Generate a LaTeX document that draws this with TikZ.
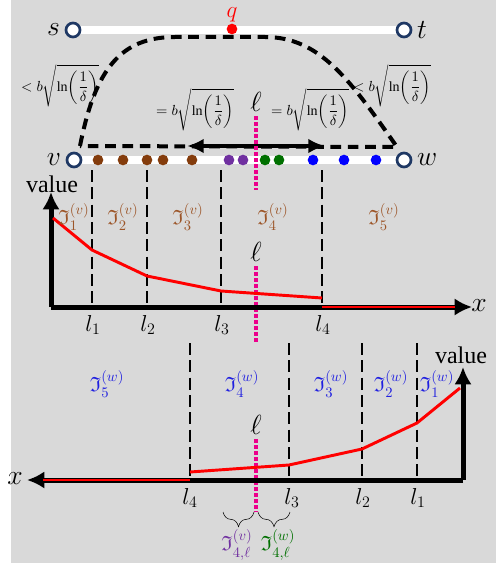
\documentclass[tikz,border=0pt]{standalone}
\usepackage{xcolor}
\usepackage{amsmath}
\usepackage{amssymb}
\usepackage{fontspec}
\setmainfont{Liberation Serif}
\usepackage{tikz}
\usetikzlibrary{arrows.meta,decorations.pathreplacing,backgrounds}

\definecolor{bggray}{HTML}{D9D9D9}
\definecolor{navy}{HTML}{1F3864}
\definecolor{brownV}{HTML}{843C0C}
\definecolor{brownL}{HTML}{9C5528}
\definecolor{purpleM}{HTML}{7030A0}
\definecolor{greenM}{HTML}{007000}
\definecolor{blueW}{HTML}{0000FF}
\definecolor{blueL}{HTML}{2020E0}

\newcommand{\bound}[1]{$\displaystyle #1 b\sqrt{\ln\biggl(\dfrac{1}{\delta}\biggr)}$}

\tikzset{
  endpt/.style={circle,draw=navy,fill=white,line width=2pt,minimum size=10.5pt,inner sep=0pt},
  road/.style={white,line width=6pt},
  bigdash/.style={line width=3pt,dash pattern=on 8pt off 5pt},
  vdash/.style={line width=2pt,dash pattern=on 9pt off 4pt},
  ellline/.style={magenta,line width=2.5pt,dash pattern=on 2.5pt off 2pt},
  axis/.style={line width=3.75pt,-{Latex[length=13pt,width=13pt]}},
  redline/.style={red,line width=2.2pt},
  bigm/.style={font=\fontsize{21}{22}\selectfont},
  lsub/.style={font=\fontsize{17}{18}\selectfont},
  frak/.style={font=\fontsize{15.5}{16}\selectfont},
  bnd/.style={font=\fontsize{10.5}{11}\selectfont,inner sep=0pt},
  valtxt/.style={font=\fontsize{18}{20}\selectfont}
}

\begin{document}
\begin{tikzpicture}[x=0.75pt,y=-0.75pt]
\useasboundingbox (0,0) rectangle (496,563);

% ===== 端点 =====
\node[endpt] (s) at (73,30) {};
\node[endpt] (t) at (404,30) {};
\node[endpt] (v) at (74,160) {};
\node[endpt] (w) at (404,160) {};
\node[bigm,left] (slab) at (s.west) {$s$};
\node[bigm,right] (tlab) at (t.east) {$t$};
\node[bigm,left] (vlab) at (v.west) {$v$};
\node[bigm,right] (wlab) at (w.east) {$w$};

% ===== 背景和两条路 =====
\begin{scope}[on background layer]
\fill[bggray] (11,0) rectangle (496,563);
\draw[road] (s.center) -- (t.center);
\draw[road] (v.center) -- (w.center);
\end{scope}

% ===== q 点 =====
\fill[red] (232,29) circle (4pt);
\node[red,inner sep=0pt,font=\fontsize{19}{20}\selectfont] (q) at (232,15) {$q$};

% ===== 虚线回路和双向箭头 =====
\coordinate (vc) at (80,146);
\coordinate (wc) at (397,147);
\draw[bigdash,line join=miter] (vc) .. controls (95,70) and (120,37) .. (175,37)
  -- (265,37) .. controls (320,37) and (350,80) .. (wc) -- cycle;
\coordinate (al) at (187,146);
\coordinate (ar) at (325,146);
\draw[line width=3pt,{Latex[length=12.5pt,width=11pt]}-{Latex[length=12.5pt,width=11pt]}] (al) -- (ar);

% ===== 距离标注 =====
\node[bnd] (bl) at (60,86) {\bound{<}};
\node[bnd] (br) at (392,86) {\bound{<}};
\node[bnd] (ml) at (195,110) {\bound{=}};
\node[bnd] (mr) at (310,110) {\bound{=}};

% ===== 点 =====
\fill[brownV] (98,160) circle (4pt) (123,160) circle (4pt) (147,160) circle (4pt)
  (163,160) circle (4pt) (192,160) circle (4pt);
\fill[purpleM] (229,160) circle (4pt) (243,160) circle (4pt);
\fill[greenM] (265,160) circle (4pt) (279,160) circle (4pt);
\fill[blueW] (313,160) circle (4pt) (344,160) circle (4pt) (376,160) circle (4pt);

% ===== ell 线 =====
\node[bigm] (ell1) at (256,102) {$\ell$};
\draw[ellline] (ell1.south) -- (256,190);
\node[bigm] (ell2) at (256,252) {$\ell$};
\draw[ellline] (ell2.south) -- (256,342);
\node[bigm] (ell3) at (256,425) {$\ell$};
\draw[ellline] (ell3.south) -- (256,512);

% ===== 上图 =====
\coordinate (O1) at (51,307);
\draw[vdash] (92,170) -- (92,307);
\draw[vdash] (147,170) -- (147,307);
\draw[vdash] (221,170) -- (221,307);
\draw[vdash] (322,170) -- (322,307);
\draw[axis] (O1) -- (472,307);
\draw[axis] (O1) -- (51,192);
\draw[redline] (53,218) -- (92,250) -- (147,276) -- (221,291) -- (322,298);
\draw[redline] (322,307) -- (455,307);
\node[valtxt] (val1) at (52,184) {value};
\node[bigm] (x1) at (479,306) {$x$};
\node[lsub] (l1a) at (93,325) {$l_1$};
\node[lsub] (l2a) at (148,325) {$l_2$};
\node[lsub] (l3a) at (222,325) {$l_3$};
\node[lsub] (l4a) at (323,325) {$l_4$};
\node[frak,brownL] (iv1) at (74,217) {$\mathfrak{I}^{(v)}_1$};
\node[frak,brownL] (iv2) at (123,217) {$\mathfrak{I}^{(v)}_2$};
\node[frak,brownL] (iv3) at (188,217) {$\mathfrak{I}^{(v)}_3$};
\node[frak,brownL] (iv4) at (273,217) {$\mathfrak{I}^{(v)}_4$};
\node[frak,brownL] (iv5) at (384,217) {$\mathfrak{I}^{(v)}_5$};

% ===== 下图 =====
\coordinate (O2) at (463,480);
\draw[vdash] (190,343) -- (190,480);
\draw[vdash] (289,343) -- (289,480);
\draw[vdash] (362,343) -- (362,480);
\draw[vdash] (417,343) -- (417,480);
\draw[axis] (O2) -- (27,480);
\draw[axis] (O2) -- (463,367);
\draw[redline] (43,480) -- (190,480);
\draw[redline] (190,472) -- (289,465) -- (362,449) -- (417,423) -- (460,388);
\node[valtxt] (val2) at (461,355) {value};
\node[bigm] (x2) at (15,479) {$x$};
\node[lsub] (l4b) at (190,498) {$l_4$};
\node[lsub] (l3b) at (292,498) {$l_3$};
\node[lsub] (l2b) at (363,498) {$l_2$};
\node[lsub] (l1b) at (418,498) {$l_1$};
\node[frak,blueL] (iw5) at (107,384) {$\mathfrak{I}^{(w)}_5$};
\node[frak,blueL] (iw4) at (242,384) {$\mathfrak{I}^{(w)}_4$};
\node[frak,blueL] (iw3) at (331,384) {$\mathfrak{I}^{(w)}_3$};
\node[frak,blueL] (iw2) at (391,384) {$\mathfrak{I}^{(w)}_2$};
\node[frak,blueL] (iw1) at (437,384) {$\mathfrak{I}^{(w)}_1$};

% ===== 括号 =====
\draw[decorate,decoration={brace,mirror,amplitude=11pt}] (223,512) -- (254,512);
\draw[decorate,decoration={brace,mirror,amplitude=11pt}] (258,512) -- (290,512);
\node[frak,purpleM] (ivl) at (237,545) {$\mathfrak{I}^{(v)}_{4,\ell}$};
\node[frak,greenM] (iwl) at (278,545) {$\mathfrak{I}^{(w)}_{4,\ell}$};
\end{tikzpicture}
\end{document}
